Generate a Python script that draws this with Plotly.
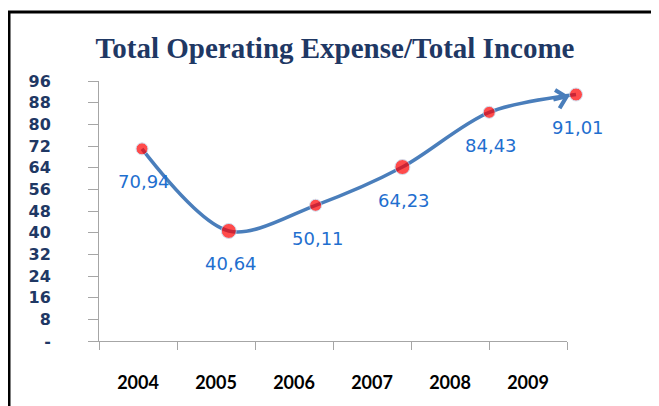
import plotly.graph_objects as go

years = ["2004", "2005", "2006", "2007", "2008", "2009"]
ratio = [70.94, 40.64, 50.11, 64.23, 84.43, 91.01]
y_ticks = [0, 8, 16, 24, 32, 40, 48, 56, 64, 72, 80, 88, 96]
y_ticktext = ["-"] + [str(v) for v in y_ticks[1:]]

W, H = 659, 406
OFF = 8  # the page body margin shifts the figure by 8px
# plot area in page pixels, converted to figure pixels
L, R, T, B = 99 - OFF, 567 - OFF, 81 - OFF, 341 - OFF
R_EXT = 610 - OFF  # wider area so the last point isn't dropped
FIRST_PT, STEP = 142 - OFF, 86.8  # where the points sit along x

NAVY = "#1F3864"
LINE = "#4A7EBB"
LABEL = "#1F6FCF"
AXIS = "#A6A6A6"


def px_x(px):
    return (px - L) / (R_EXT - L)


def px_y(py):
    return (B - py) / (B - T)


fig = go.Figure()

# category axis that carries the year labels
fig.add_trace(go.Scatter(x=years, y=[None] * len(years), xaxis="x", yaxis="y",
                         showlegend=False, hoverinfo="skip"))

# the ratio line, on a second x axis (points sit a bit wider than the categories)
fig.add_trace(go.Scatter(
    x=years, y=ratio, xaxis="x2", yaxis="y",
    mode="lines+markers",
    line=dict(color=LINE, width=3.5, shape="spline", smoothing=0.9),
    marker=dict(color="#FF0000", size=[12, 15, 12, 15, 12, 13],
                line=dict(color="#BDD7EE", width=1)),
    cliponaxis=False, showlegend=False,
))

annotations = []
for i, v in enumerate(ratio):
    annotations.append(dict(
        x=i, y=v, xref="x2", yref="y", showarrow=False,
        text=f"{v:.2f}".replace(".", ","), yshift=-33, xshift=2,
        font=dict(family="DejaVu Sans", size=18, color=LABEL),
    ))

# open arrowhead at the end of the line
annotations.append(dict(
    x=len(ratio) - 1, y=ratio[-1], xref="x2", yref="y", text="",
    showarrow=True, arrowhead=4, arrowsize=1.2, arrowwidth=3,
    arrowcolor=LINE, ax=-24, ay=6, standoff=7,
))

fig.update_layout(
    width=W, height=H,
    margin=dict(l=L, r=W - R_EXT, t=T, b=H - B, pad=0, autoexpand=False),
    paper_bgcolor="white", plot_bgcolor="rgba(0,0,0,0)",
    showlegend=False,
    title=dict(
        text="<b>Total Operating Expense/Total Income</b>",
        font=dict(family="Liberation Serif", size=29, color=NAVY),
        x=(335 - OFF) / W, xanchor="center", y=1 - (48 - OFF) / H, yanchor="middle",
    ),
    xaxis=dict(
        type="category", categoryarray=years, range=[-0.5, 5.5],
        domain=[0, (R - L) / (R_EXT - L)], anchor="y",
        showline=True, linecolor=AXIS, linewidth=1,
        ticks="outside", tickson="boundaries", ticklen=8, tickcolor=AXIS,
        showgrid=False, zeroline=False,
        tickfont=dict(family="Lato", size=18, color="black", weight="bold"),
        ticklabelstandoff=25,
    ),
    xaxis2=dict(
        type="category", categoryarray=years, anchor="y",
        domain=[0, 1],
        range=[(L - FIRST_PT) / STEP, (R_EXT - FIRST_PT) / STEP],
        visible=False,
    ),
    yaxis=dict(
        range=[0, 96], tickvals=y_ticks, ticktext=y_ticktext, anchor="x",
        showline=True, linecolor=AXIS, linewidth=1,
        ticks="outside", ticklen=10, tickcolor=AXIS,
        showgrid=False, zeroline=False,
        tickfont=dict(family="DejaVu Sans", size=16, color=NAVY, weight="bold"),
        ticklabelstandoff=34,
    ),
    annotations=annotations,
    shapes=[dict(
        type="rect", xref="paper", yref="paper",
        x0=px_x(8 - OFF + 1), x1=px_x(W + 20), y0=px_y(H + 20), y1=px_y(12 - OFF),
        line=dict(color="black", width=3), layer="above",
    )],
)

fig.write_html("out.html")
